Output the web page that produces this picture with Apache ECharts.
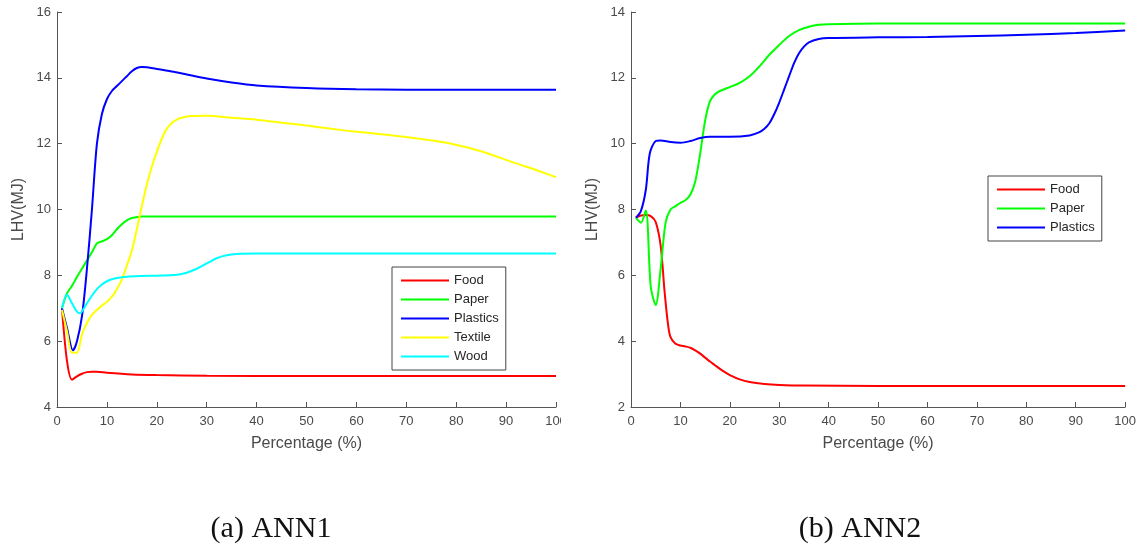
<!DOCTYPE html>
<html>
<head>
<meta charset="utf-8">
<script src="https://cdn.jsdelivr.net/npm/echarts@6/dist/echarts.min.js"></script>
<style>
html,body{margin:0;padding:0;background:#fff;}
#chart{width:1139px;height:548px;}
</style>
</head>
<body>
<div id="chart"></div>
<script>
// ---- Data (x = Percentage %, y = LHV MJ) ----
const seriesNames1 = ['Food', 'Paper', 'Plastics', 'Textile', 'Wood'];
const seriesNames2 = ['Food', 'Paper', 'Plastics'];
const xTicks = [0, 10, 20, 30, 40, 50, 60, 70, 80, 90, 100];

const ann1Food = [[1,7.0],[2,5.4],[3,4.83],[4,4.93],[5,5.01],[6,5.06],[7,5.07],[8,5.07],[10,5.04],[15,4.99],[20,4.97],[30,4.95],[50,4.94],[100,4.94]];
const ann1Paper = [[1,7.0],[2,7.45],[3,7.68],[4,7.95],[5,8.2],[6,8.45],[7,8.7],[8,8.97],[9,9.03],[10,9.1],[11,9.22],[12,9.4],[13,9.55],[14,9.67],[15,9.74],[17,9.79],[30,9.79],[100,9.79]];
const ann1Plastics = [[1,7.0],[2,6.4],[3.2,5.72],[4,6.0],[5,6.75],[6,8.2],[7,10.0],[8,12.0],[9,12.9],[10,13.35],[11,13.6],[12,13.75],[13,13.9],[14,14.05],[15,14.2],[16,14.3],[17,14.33],[18,14.32],[20,14.27],[23,14.19],[26,14.1],[30,13.98],[35,13.86],[40,13.77],[50,13.69],[60,13.65],[70,13.64],[100,13.64]];
const ann1Textile = [[1,6.95],[2,6.3],[3,5.65],[4,5.65],[5,6.2],[6,6.55],[7,6.8],[8,6.95],[9,7.08],[10,7.2],[11,7.35],[12,7.58],[13,7.88],[14,8.3],[15,8.75],[16,9.4],[17,10.1],[18,10.75],[19,11.3],[20,11.75],[21,12.15],[22,12.45],[23,12.63],[24,12.73],[25,12.79],[27,12.84],[30,12.85],[35,12.79],[40,12.73],[50,12.55],[55,12.45],[60,12.36],[69,12.22],[75,12.1],[79,12.0],[85,11.77],[92,11.4],[96,11.2],[100,10.98]];
const ann1Wood = [[1,7.0],[2,7.42],[3,7.15],[4,6.9],[4.6,6.85],[5,6.9],[6,7.15],[7,7.38],[8,7.58],[9,7.72],[10,7.82],[11,7.88],[12,7.92],[14,7.96],[17,7.98],[20,7.99],[24,8.02],[26,8.08],[28,8.2],[30,8.36],[32,8.52],[34,8.61],[36,8.65],[40,8.66],[100,8.66]];

const ann2Food = [[1,7.75],[2,7.82],[3,7.83],[4,7.8],[5,7.62],[6,6.9],[6.8,5.5],[7.5,4.5],[8,4.12],[9,3.92],[10,3.87],[11,3.84],[12,3.8],[13,3.72],[14,3.62],[15,3.5],[16,3.38],[17,3.27],[18,3.16],[19,3.06],[20,2.97],[22,2.84],[24,2.76],[27,2.7],[30,2.67],[35,2.65],[50,2.64],[100,2.64]];
const ann2Paper = [[1,7.75],[2,7.6],[3,7.97],[4,5.65],[5,5.1],[6,6.2],[7,7.6],[8,8.0],[9,8.1],[10,8.2],[11,8.28],[12,8.45],[13,8.85],[14,9.7],[15,10.7],[16,11.3],[17,11.5],[18,11.6],[20,11.72],[22,11.85],[24,12.05],[26,12.35],[28,12.7],[30,13.0],[32,13.27],[34,13.45],[36,13.55],[38,13.61],[40,13.63],[50,13.65],[100,13.65]];
const ann2Plastics = [[1,7.75],[2,7.95],[3,8.6],[3.8,9.7],[5,10.08],[6,10.1],[8,10.05],[10,10.03],[12,10.08],[14,10.17],[16,10.21],[20,10.21],[24,10.25],[26,10.35],[27,10.45],[28,10.62],[29,10.9],[30,11.25],[31,11.65],[32,12.05],[33,12.45],[34,12.75],[35,12.95],[36,13.08],[38,13.18],[40,13.21],[50,13.23],[60,13.24],[70,13.27],[80,13.31],[90,13.36],[100,13.44]];

const colors = {Food:'#ff0000', Paper:'#00ff00', Plastics:'#0000ff', Textile:'#ffff00', Wood:'#00ffff'};
const data1 = {Food:ann1Food, Paper:ann1Paper, Plastics:ann1Plastics, Textile:ann1Textile, Wood:ann1Wood};
const data2 = {Food:ann2Food, Paper:ann2Paper, Plastics:ann2Plastics};

const gray = '#555';
const labelColor = '#4a4a4a';
const font = 'Liberation Sans, Arial, sans-serif';

function xAxis(gi) {
  return {
    type:'value', gridIndex:gi, min:0, max:100, interval:10,
    name:'Percentage (%)', nameLocation:'middle', nameGap:29,
    nameTextStyle:{color:labelColor, fontSize:16, fontFamily:font},
    axisLine:{show:true, lineStyle:{color:gray, width:1}},
    axisTick:{show:true, inside:true, length:5, lineStyle:{color:gray}},
    axisLabel:{color:labelColor, fontSize:13, fontFamily:font, margin:8},
    splitLine:{show:false}
  };
}
function yAxis(gi, min, max) {
  return {
    type:'value', gridIndex:gi, min:min, max:max, interval:2,
    name:'LHV(MJ)', nameLocation:'middle', nameGap:30,
    nameTextStyle:{color:labelColor, fontSize:16, fontFamily:font},
    axisLine:{show:true, lineStyle:{color:gray, width:1}},
    axisTick:{show:true, inside:true, length:5, lineStyle:{color:gray}},
    axisLabel:{color:labelColor, fontSize:13, fontFamily:font, margin:6},
    splitLine:{show:false}
  };
}
function mkSeries(names, data, gi) {
  return names.map(n => ({
    name:n, type:'line', xAxisIndex:gi, yAxisIndex:gi,
    data:data[n], showSymbol:false, smooth:0.3,
    lineStyle:{color:colors[n], width:2}, itemStyle:{color:colors[n]},
    emphasis:{disabled:true}
  }));
}
function legend(names, left, top) {
  return {
    data:names.map(n => ({name:n, icon:'rect', itemStyle:{color:colors[n]}})),
    orient:'vertical', left:left, top:top,
    itemWidth:48, itemHeight:2, itemGap:4,
    padding:[6,7,6,9],
    borderColor:'#444', borderWidth:1, backgroundColor:'#fff',
    textStyle:{color:'#262626', fontSize:13, fontFamily:font, lineHeight:15},
    selectedMode:false
  };
}

const chart = echarts.init(document.getElementById('chart'), null, {renderer:'canvas'});
chart.setOption({
  animation:false,
  backgroundColor:'#fff',
  title:[
    {text:'(a) ANN1', left:266, top:509, textAlign:'center',
     textStyle:{fontFamily:'Liberation Serif, Times New Roman, serif', fontSize:30, fontWeight:'normal', color:'#111'}},
    {text:'(b) ANN2', left:855, top:509, textAlign:'center',
     textStyle:{fontFamily:'Liberation Serif, Times New Roman, serif', fontSize:30, fontWeight:'normal', color:'#111'}}
  ],
  grid:[
    {left:57, top:12, width:499, height:395},
    {left:631, top:12, width:499, height:395}
  ],
  xAxis:[xAxis(0), xAxis(1)],
  yAxis:[yAxis(0,4,16), yAxis(1,2,14)],
  legend:[legend(seriesNames1, 392, 267), legend(seriesNames2, 988, 176)],
  graphic:[{type:'rect', shape:{x:561, y:412, width:30, height:22}, style:{fill:'#fff'}, z:100}],
  series:[...mkSeries(seriesNames1, data1, 0), ...mkSeries(seriesNames2, data2, 1)]
});
</script>
</body>
</html>
